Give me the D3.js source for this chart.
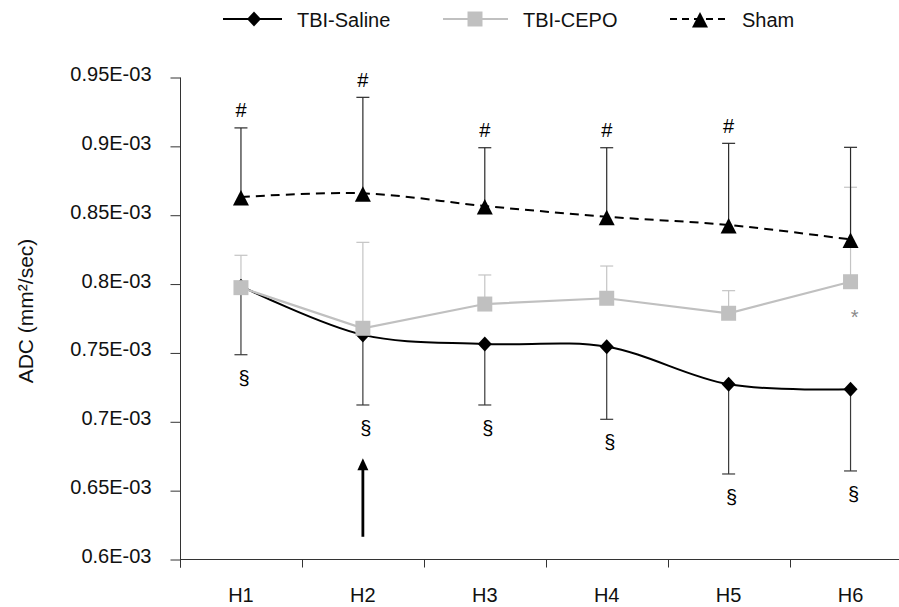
<!DOCTYPE html>
<html><head><meta charset="utf-8">
<script src="https://cdn.jsdelivr.net/npm/d3@7"></script>
<style>
body{margin:0;background:#fff}
text{font-family:"Liberation Sans",Arial,sans-serif}
</style>
</head><body>
<svg id="chart" width="899" height="607"></svg>
<script>
// ---- data (ADC, units of 1E-03 mm²/sec) ----
const categories = ["H1","H2","H3","H4","H5","H6"];
const salineMean = [0.7985,0.7631,0.7565,0.7545,0.7272,0.7236];
const salineSD   = [0.0498,0.0509,0.0443,0.0527,0.0651,0.0593];
const cepoMean   = [0.7974,0.7679,0.7855,0.7897,0.7788,0.8017];
const cepoSD     = [0.0235,0.0624,0.0211,0.0234,0.0164,0.0686];
const shamMean   = [0.8632,0.8659,0.8567,0.8489,0.8429,0.8324];
const shamSD     = [0.0502,0.0697,0.0423,0.0501,0.0593,0.0669];
const shamMarks   = ["#","#","#","#","#",""];
const salineMarks = ["§","§","§","§","§","§"];
const cepoMarks   = ["","","","","","*"];
const yTicks      = [0.6,0.65,0.7,0.75,0.8,0.85,0.9,0.95];
const yTickLabels = ["0.6E-03","0.65E-03","0.7E-03","0.75E-03","0.8E-03","0.85E-03","0.9E-03","0.95E-03"];
const arrowCategory = "H2";
const arrowFrom = 0.6165, arrowTo = 0.6735;
const seriesNames = ["TBI-Saline","TBI-CEPO","Sham"];

// ---- scales ----
const svg = d3.select("#chart");
svg.append("rect").attr("width",899).attr("height",607).attr("fill","#fff");
const x = d3.scaleBand().domain(categories).range([180, 911.5]).padding(0);
const y = d3.scaleLinear().domain([0.6, 0.95]).range([559.5, 77.5]);
const cx = c => x(c) + x.bandwidth()/2;
const axisColor = "#333";
const FS = 20;

// ---- y axis ----
const yAxis = d3.axisLeft(y).tickValues(yTicks).tickSize(10).tickPadding(0)
  .tickFormat((d,i) => yTickLabels[i]);
const gy = svg.append("g").attr("transform","translate(180.5,0)").call(yAxis);
gy.select(".domain").remove();
gy.selectAll(".tick line").attr("stroke",axisColor);
gy.selectAll(".tick text").attr("x",-29).attr("dy","0.15em")
  .attr("font-size",FS).attr("fill","#111").style("font-family",'"Liberation Sans",Arial,sans-serif');
svg.append("line").attr("x1",180.5).attr("x2",180.5)
  .attr("y1",y(0.95)).attr("y2",y(0.6)+8).attr("stroke",axisColor);

// ---- x axis ----
svg.append("line").attr("x1",180).attr("x2",911.5)
  .attr("y1",y(0.6)).attr("y2",y(0.6)).attr("stroke",axisColor);
svg.append("g").selectAll("line").data(categories).join("line")
  .attr("x1",d=>Math.round(x(d))+0.5).attr("x2",d=>Math.round(x(d))+0.5)
  .attr("y1",y(0.6)).attr("y2",y(0.6)+8).attr("stroke",axisColor);
svg.append("g").selectAll("text").data(categories).join("text")
  .attr("x",d=>cx(d)).attr("y",602).attr("text-anchor","middle")
  .attr("font-size",FS).attr("fill","#111").text(d=>d);

// ---- y title ----
svg.append("text").attr("transform","translate(33,311) rotate(-90)")
  .attr("text-anchor","middle").attr("font-size",21).attr("fill","#111")
  .text("ADC (mm²/sec)");

// ---- marker shapes ----
const diamondPath = "M0,-7.5L7,0L0,7.5L-7,0Z";
const squarePath = "M-7.5,-7.5H7.5V7.5H-7.5Z";
const trianglePath = "M0,-8L8,7.5L-8,7.5Z";

function errorBars(means, sds, dir, color){
  const g = svg.append("g").attr("stroke",color).attr("stroke-width",1.2);
  categories.forEach((c,i)=>{
    const end = means[i] + dir*sds[i];
    g.append("line").attr("x1",cx(c)).attr("x2",cx(c))
      .attr("y1",y(means[i])).attr("y2",y(end));
    g.append("line").attr("x1",cx(c)-6.5).attr("x2",cx(c)+6.5)
      .attr("y1",y(end)).attr("y2",y(end));
  });
}

// error bars
errorBars(salineMean, salineSD, -1, "#3a3a3a");
errorBars(cepoMean, cepoSD, +1, "#c4c4c4");
errorBars(shamMean, shamSD, +1, "#2a2a2a");

// lines
const smooth = d3.line().x((d,i)=>cx(categories[i])).y(d=>y(d)).curve(d3.curveCatmullRom.alpha(0.5));
const straight = d3.line().x((d,i)=>cx(categories[i])).y(d=>y(d));
svg.append("path").attr("d",smooth(salineMean)).attr("fill","none").attr("stroke","#000").attr("stroke-width",2);
svg.append("path").attr("d",straight(cepoMean)).attr("fill","none").attr("stroke","#c0c0c0").attr("stroke-width",2.2);
svg.append("path").attr("d",smooth(shamMean)).attr("fill","none").attr("stroke","#000").attr("stroke-width",2)
  .attr("stroke-dasharray","9,6");

// markers
svg.append("g").selectAll("path").data(salineMean).join("path")
  .attr("transform",(d,i)=>`translate(${cx(categories[i])},${y(d)})`).attr("d",diamondPath).attr("fill","#000");
svg.append("g").selectAll("path").data(cepoMean).join("path")
  .attr("transform",(d,i)=>`translate(${cx(categories[i])},${y(d)})`).attr("d",squarePath).attr("fill","#c0c0c0");
svg.append("g").selectAll("path").data(shamMean).join("path")
  .attr("transform",(d,i)=>`translate(${cx(categories[i])},${y(d)+1})`).attr("d",trianglePath).attr("fill","#000");

// significance marks
svg.append("g").selectAll("text").data(shamMarks).join("text")
  .attr("x",(d,i)=>cx(categories[i])).attr("y",(d,i)=>y(shamMean[i]+shamSD[i])-10.5)
  .attr("text-anchor","middle").attr("font-size",FS).attr("fill","#000").text(d=>d);
svg.append("g").selectAll("text").data(salineMarks).join("text")
  .attr("x",(d,i)=>cx(categories[i])+3).attr("y",(d,i)=>y(salineMean[i]-salineSD[i])+30)
  .attr("text-anchor","middle").attr("font-size",FS).attr("fill","#000").text(d=>d);
svg.append("g").selectAll("text").data(cepoMarks).join("text")
  .attr("x",(d,i)=>cx(categories[i])+4).attr("y",(d,i)=>y(cepoMean[i])+42)
  .attr("text-anchor","middle").attr("font-size",FS).attr("fill","#8a8a8a").text(d=>d);

// arrow (treatment time)
const ax = cx(arrowCategory);
svg.append("line").attr("x1",ax).attr("x2",ax).attr("y1",y(arrowFrom)).attr("y2",y(arrowTo)+8)
  .attr("stroke","#000").attr("stroke-width",2.8);
svg.append("path").attr("d",`M${ax},${y(arrowTo)}L${ax+5.5},${y(arrowTo)+12}L${ax-5.5},${y(arrowTo)+12}Z`).attr("fill","#000");

// ---- legend ----
const leg = svg.append("g");
const legY = 19;
const legItems = [
  {x1:223,x2:282,mx:254,tx:297,color:"#000",dash:null,shape:diamondPath,w:2},
  {x1:443,x2:508,mx:475,tx:523,color:"#c0c0c0",dash:null,shape:squarePath,w:2.2},
  {x1:670,x2:729,mx:700,tx:742,color:"#000",dash:"7,5",shape:trianglePath,w:2}
];
legItems.forEach((it,i)=>{
  leg.append("line").attr("x1",it.x1).attr("x2",it.x2).attr("y1",legY).attr("y2",legY)
    .attr("stroke",it.color).attr("stroke-width",it.w).attr("stroke-dasharray",it.dash);
  leg.append("path").attr("transform",`translate(${it.mx},${legY+(i===2?1:0)})`).attr("d",it.shape).attr("fill",it.color);
  leg.append("text").attr("x",it.tx).attr("y",legY+7.5).attr("font-size",FS).attr("fill","#111").text(seriesNames[i]);
});
</script>
</body></html>
